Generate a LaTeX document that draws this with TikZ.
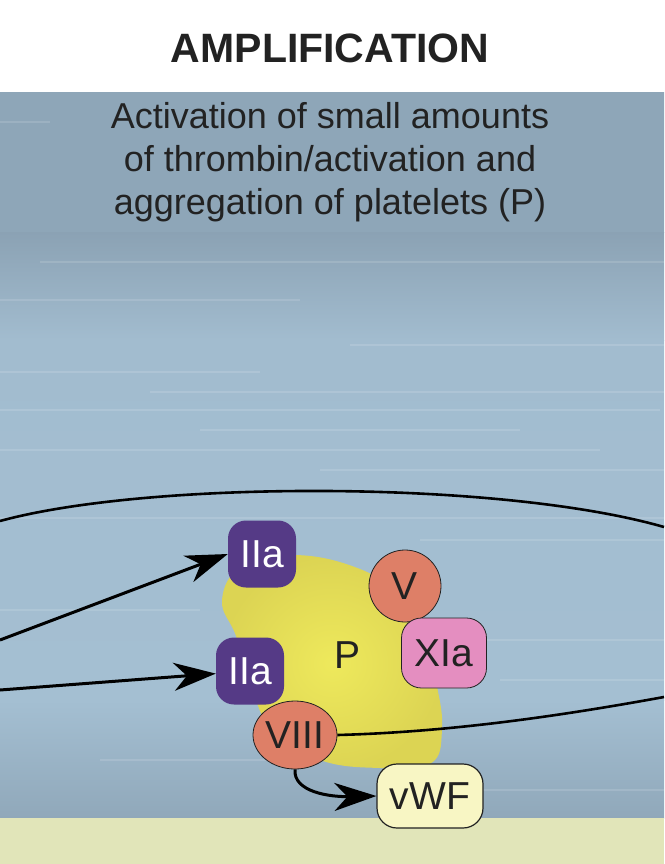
\documentclass[tikz,border=0pt]{standalone}
\usepackage{fontspec}
\setmainfont{Liberation Sans}
\usetikzlibrary{arrows.meta,shapes.geometric}
\definecolor{bandA}{HTML}{8EA6B8}
\definecolor{bandA2}{HTML}{9CB5C7}
\definecolor{bandB}{HTML}{8BA2B4}
\definecolor{bandC}{HTML}{A2BCCF}
\definecolor{bandD}{HTML}{A9C4D7}
\definecolor{bandE}{HTML}{A4BFD2}
\definecolor{bandF}{HTML}{90A8BA}
\definecolor{floorc}{HTML}{E1E5B9}
\definecolor{thrombin}{HTML}{553A86}
\definecolor{salmon}{HTML}{DE7F67}
\definecolor{pinkc}{HTML}{E48EC0}
\definecolor{vwfc}{HTML}{F8F6C4}
\definecolor{blobin}{HTML}{EEE95C}
\definecolor{blobout}{HTML}{DCD453}
\definecolor{inkc}{HTML}{222222}
\begin{document}
\begin{tikzpicture}[x=1pt,y=-1pt,
  lbl/.style={font=\fontsize{39}{40}\selectfont, text=inkc, inner sep=0pt},
  thr/.style={lbl, rectangle, rounded corners=18pt, fill=thrombin, text=white, minimum width=68pt, minimum height=67pt},
  fac/.style={lbl, ellipse, fill=salmon, draw=inkc, line width=0.8pt},
  arr/.style={line width=3pt, -{Stealth[length=42pt,width=28pt,inset=13pt]}},
  thin/.style={line width=2.6pt},
  streak/.style={white, opacity=0.13, line width=1.5pt}]
\useasboundingbox (0,0) rectangle (664,864);
% background
\fill[white] (0,0) rectangle (664,93);
\shade[top color=bandA, middle color=bandA2, bottom color=bandA] (0,93) rectangle (664,232);
\shade[top color=bandB, bottom color=bandC] (0,232) rectangle (664,340);
\shade[top color=bandC, middle color=bandD, bottom color=bandE] (0,340) rectangle (664,700);
\shade[top color=bandE, bottom color=bandF] (0,700) rectangle (664,818);
\fill[floorc] (0,818) rectangle (664,864);
\foreach \y/\a/\b in {122/0/50, 262/40/664, 300/0/300, 345/350/664, 372/0/260, 392/150/664, 410/0/660, 430/200/520, 450/0/600, 470/320/664, 518/0/664, 540/420/664, 610/0/200, 640/460/664, 680/500/664, 760/100/400, 790/480/664}
  \draw[streak] (\a,\y) -- (\b,\y);
% title and caption
\node[font=\bfseries\fontsize{41}{43}\selectfont, text=inkc] (title) at (330,48) {AMPLIFICATION};
\node[font=\fontsize{36}{43}\selectfont, text=inkc, align=center] (caption) at (330,162)
  {Activation of small amounts\\of thrombin/activation and\\aggregation of platelets (P)};
% large arc
\coordinate (arcL) at (0,521);
\coordinate (arcR) at (664,527);
\draw[thin] (arcL) .. controls (150,480) and (500,480) .. (arcR);
% platelet blob
\shade[inner color=blobin, outer color=blobout]
  plot[smooth cycle, tension=0.7] coordinates {(222,600) (242,566) (292,555) (352,566) (396,592) (422,632) (436,682) (442,730) (430,764) (380,768) (320,760) (272,730) (250,682) (236,636)};
\node[lbl] (P) at (348,655) {P};
% factor nodes
\node[thr] (IIa1) at (262,554) {IIa};
\node[thr] (IIa2) at (250,671) {IIa};
\node[fac, minimum width=72pt, minimum height=72pt] (V) at (405,586) {V};
\node[lbl, rectangle, rounded corners=20pt, fill=pinkc, draw=inkc, line width=0.8pt, minimum width=85pt, minimum height=70pt] (XIa) at (444,653) {XIa};
\node[fac, minimum width=84pt, minimum height=68pt] (VIII) at (295,735) {VIII};
\node[lbl, rectangle, rounded corners=20pt, fill=vwfc, draw=inkc, line width=1.2pt, minimum width=106pt, minimum height=64pt] (vWF) at (430,796) {vWF};
% connectors
\coordinate (in1) at (0,640);
\coordinate (in2) at (0,690);
\coordinate (outR) at (664,697);
\draw[arr] (in1) -- (IIa1.west);
\draw[arr] (in2) -- (IIa2);
\draw[thin] (VIII.east) .. controls (450,732) and (560,716) .. (outR);
\draw[arr] (VIII.south) .. controls (293,792) and (330,797) .. (vWF.west);
\end{tikzpicture}
\end{document}
